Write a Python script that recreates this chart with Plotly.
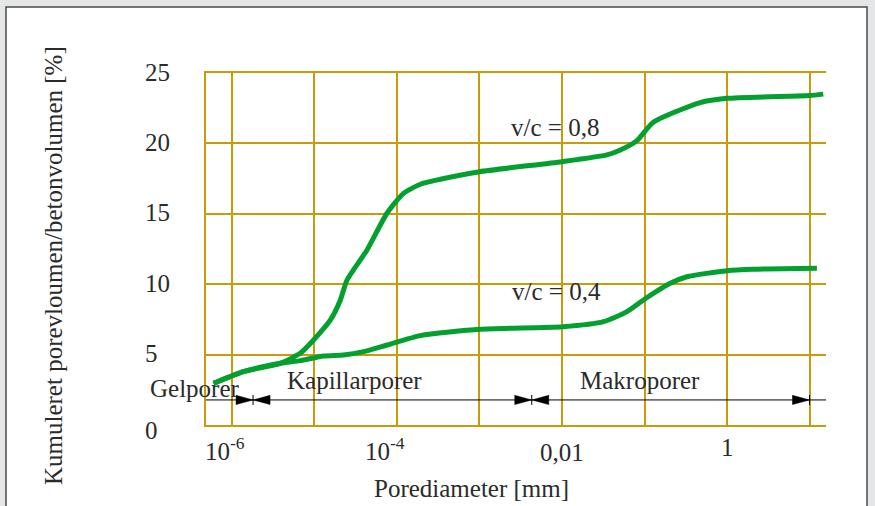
import math
import plotly.graph_objects as go

# ---------------- data ----------------
d_04 = [5.98e-7, 1.38e-6, 3.85e-6, 6.7e-6, 1.29e-5, 2.25e-5, 3.94e-5, 7.56e-5, 1.92e-4,
        1.02e-3, 1.02e-2, 3.19e-2, 6.13e-2, 0.1, 0.205, 0.327, 1.0, 2.08, 12.3]
v_04 = [2.96, 3.79, 4.38, 4.57, 4.9, 4.97, 5.21, 5.68, 6.35,
        6.80, 6.98, 7.34, 8.05, 8.93, 10.06, 10.53, 10.96, 11.06, 11.13]

d_08 = [5.98e-7, 1.38e-6, 3.85e-6, 6.7e-6, 9.75e-6, 1.56e-5, 2.06e-5, 2.48e-5, 4.33e-5,
        7.56e-5, 1.2e-4, 1.92e-4, 3.35e-4, 1.0e-3, 1.0e-2, 3.5e-2, 5.09e-2, 8.1e-2,
        0.128, 0.474, 1.0, 9.95, 14.7]
v_08 = [2.96, 3.79, 4.38, 5.09, 6.04, 7.46, 8.88, 10.3, 12.43,
        15.04, 16.45, 17.1, 17.45, 17.99, 18.7, 19.18, 19.53, 20.2,
        21.5, 22.9, 23.2, 23.4, 23.5]

grid_x = [1e-6, 1e-5, 1e-4, 1e-3, 1e-2, 1e-1, 1, 10]
xtick_vals = [1e-6, 1e-4, 1e-2, 1]
xtick_text = ["10<sup>-6</sup>", "10<sup>-4</sup>", "0,01", "1"]
ytick_vals = [0, 5, 10, 15, 20, 25]
ytick_text = ["0", "5", "10", "15", "20", "25"]

range_bounds = [1.8e-6, 4.3e-3, 10.0]          # pore class limits (mm)
range_names = ["Gelporer", "Kapillarporer", "Makroporer"]
arrow_level = 1.78

series_labels = ["v/c = 0,8", "v/c = 0,4"]
series_label_x = [8.3e-3, 8.5e-3]
series_label_y = [21.1, 9.45]

# ---------------- styling ----------------
GOLD = "#c99a0a"
GREEN = "#04a02f"
TXT = "#2b2b2b"
FONT = "Liberation Serif"
FS = 25

L, R, T, B = 206, 826, 73, 425
W, H = 875, 506
def px(xp):
    return (xp - L) / (R - L)
def py(yp):
    return (B - yp) / (B - T)

fig = go.Figure()

for d, v in [(d_08, v_08), (d_04, v_04)]:
    fig.add_trace(go.Scatter(x=d, y=v, mode="lines",
                             line=dict(color=GREEN, width=5, shape="spline", smoothing=0.6),
                             hoverinfo="skip", showlegend=False))

# dimension line
fig.add_trace(go.Scatter(x=[10 ** -6.315, 10 ** 1.2], y=[arrow_level, arrow_level], mode="lines",
                         line=dict(color="black", width=1), hoverinfo="skip", showlegend=False))

ALEN = 17 / 82.5           # arrow length in decades
AH = 4.6 * 25 / (B - T)    # half height in data units
TK = 5.0 * 25 / (B - T)
heads = [(range_bounds[0], 1), (range_bounds[0], -1), (range_bounds[1], 1),
         (range_bounds[1], -1), (range_bounds[2], 1)]
for tip, direction in heads:
    base = tip / (10 ** ALEN) if direction == 1 else tip * (10 ** ALEN)
    fig.add_trace(go.Scatter(x=[tip, base, base, tip], y=[arrow_level, arrow_level + AH,
                                                         arrow_level - AH, arrow_level],
                             mode="lines", fill="toself", fillcolor="black",
                             line=dict(color="black", width=0.5), hoverinfo="skip",
                             showlegend=False))
for tip in range_bounds:
    fig.add_trace(go.Scatter(x=[tip, tip], y=[arrow_level - TK, arrow_level + TK], mode="lines",
                             line=dict(color="black", width=1), hoverinfo="skip",
                             showlegend=False))

ann = []
# x tick labels (annotation x on a log axis is given as log10)
xshift = [-7, -12, 0, 0]
yshift = [-24, -24, -27, -22]
for xv, tt, xs, ys in zip(xtick_vals, xtick_text, xshift, yshift):
    ann.append(dict(x=math.log10(xv), y=0, xref="x", yref="y", text=tt, showarrow=False,
                    xanchor="center", yanchor="middle", yshift=ys, xshift=xs,
                    font=dict(family=FONT, size=FS, color=TXT)))
# y tick labels
for yv, tt in zip(ytick_vals, ytick_text):
    ann.append(dict(x=px(143), y=yv, xref="paper", yref="y", text=tt, showarrow=False,
                    xanchor="left", yanchor="middle", yshift=(-5 if yv == 0 else 1),
                    font=dict(family=FONT, size=FS, color=TXT)))
# range names
for xv, tt, yy in zip([px(195), px(354), px(640)], range_names, [py(388), py(380), py(380)]):
    ann.append(dict(x=xv, y=yy, xref="paper", yref="paper", text=tt, showarrow=False,
                    xanchor="center", yanchor="middle",
                    font=dict(family=FONT, size=FS, color=TXT)))
# series labels
for xv, yv, tt in zip(series_label_x, series_label_y, series_labels):
    ann.append(dict(x=math.log10(xv), y=yv, xref="x", yref="y", text=tt, showarrow=False,
                    xanchor="center", yanchor="middle",
                    font=dict(family=FONT, size=FS, color=TXT)))
# axis titles
ann.append(dict(x=px(471), y=py(488), xref="paper", yref="paper", text="Porediameter [mm]",
                showarrow=False, xanchor="center", yanchor="middle",
                font=dict(family=FONT, size=FS, color=TXT)))
ann.append(dict(x=px(53), y=py(266), xref="paper", yref="paper",
                text="Kumuleret porevloumen/betonvolumen [%]", textangle=-90,
                showarrow=False, xanchor="center", yanchor="middle",
                font=dict(family=FONT, size=FS, color=TXT)))

fig.update_layout(
    width=W, height=H,
    margin=dict(l=L, r=W - R, t=T, b=H - B),
    paper_bgcolor="#e5e6e8",
    plot_bgcolor="rgba(0,0,0,0)",
    annotations=ann,
    shapes=[dict(type="rect", xref="paper", yref="paper", layer="below",
                 x0=px(6), x1=px(867), y0=py(530), y1=py(7),
                 fillcolor="white", line=dict(color="#4a4a4a", width=1.5))],
    xaxis=dict(type="log", range=[-6.315, 1.2], tickvals=grid_x, ticktext=[""] * len(grid_x),
               showgrid=True, gridcolor=GOLD, gridwidth=1.5, showline=True, mirror=True,
               linecolor=GOLD, linewidth=1.5, zeroline=False, ticks=""),
    yaxis=dict(range=[0, 25], tickvals=ytick_vals, showticklabels=False,
               showgrid=True, gridcolor=GOLD, gridwidth=1.5, showline=True,
               linecolor=GOLD, linewidth=1.5, zeroline=False, ticks=""),
)

fig.write_html("out.html", config={"displayModeBar": False},
               post_script="document.body.style.margin='0';document.body.style.overflow='hidden';")
